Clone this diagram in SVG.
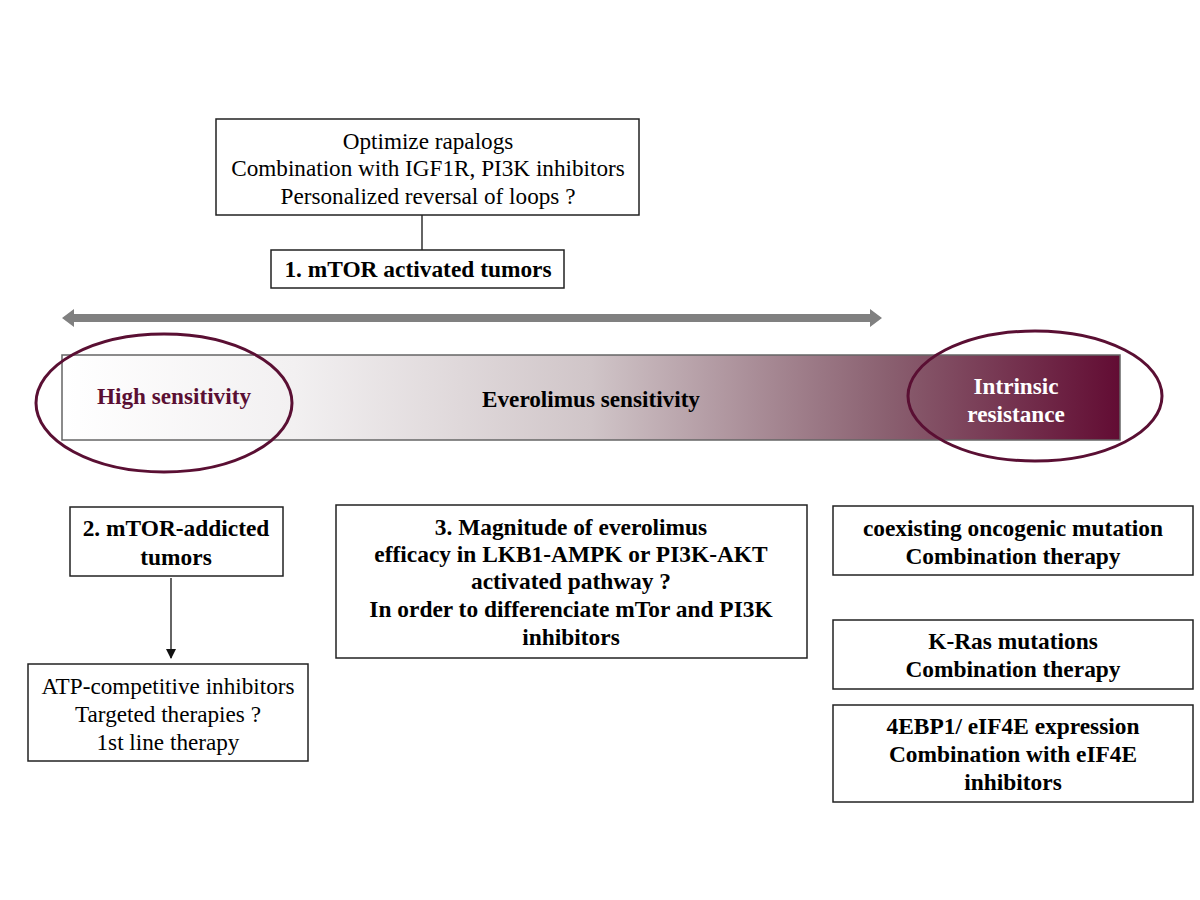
<svg xmlns="http://www.w3.org/2000/svg" width="1200" height="900" viewBox="0 0 1200 900">
<style>
.box{fill:#fff;stroke:#222;stroke-width:1.5}
.t{font-family:"Liberation Serif","Times New Roman",serif;font-size:23.2px;text-anchor:middle;fill:#000}
.b{font-weight:bold;font-size:23.4px}
.ln{stroke:#111;stroke-width:1.3;fill:none}
</style>
<defs>
<linearGradient id="grad" x1="0" y1="0" x2="1" y2="0">
<stop offset="0" stop-color="#ffffff"/>
<stop offset="0.22" stop-color="#f2f0f1"/>
<stop offset="0.5" stop-color="#d0c5c8"/>
<stop offset="0.78" stop-color="#8a6070"/>
<stop offset="1" stop-color="#620c33"/>
</linearGradient>
<marker id="ah" markerWidth="10" markerHeight="10" refX="9" refY="5" orient="auto" markerUnits="userSpaceOnUse">
<path d="M0,0 L10,5 L0,10 Z" fill="#111"/>
</marker>
</defs>
<rect width="1200" height="900" fill="#fff"/>

<g id="scale">
<rect x="62" y="355" width="1058" height="85" fill="url(#grad)" stroke="#666" stroke-width="1.5"/>
<text class="t b" x="591" y="407" style="font-size:23.2px">Everolimus sensitivity</text>
</g>
<g id="double-arrow">
<path d="M62,318 L74,309 L74,314 L870,314 L870,309 L882,318 L870,327 L870,322 L74,322 L74,327 Z" fill="#808080"/>
</g>
<g id="high-sensitivity">
<ellipse cx="164" cy="403" rx="128" ry="69" fill="none" stroke="#5a0f33" stroke-width="3"/>
<text class="t b" x="174" y="404" style="fill:#5a0f33;font-size:23.2px">High sensitivity</text>
</g>
<g id="intrinsic-resistance">
<ellipse cx="1035" cy="396" rx="127" ry="65" fill="none" stroke="#5a0f33" stroke-width="3"/>
<text class="t b" x="1016" y="394" style="fill:#fff;font-size:23.2px">Intrinsic</text>
<text class="t b" x="1016" y="422" style="fill:#fff;font-size:23.2px">resistance</text>
</g>

<g id="connectors">
<line class="ln" x1="422" y1="215" x2="422" y2="250"/>
<line class="ln" x1="171" y1="578" x2="171" y2="658" marker-end="url(#ah)"/>
</g>

<g id="optimize">
<rect class="box" x="216" y="119" width="423" height="96"/>
<text class="t" x="428" y="149">Optimize rapalogs</text>
<text class="t" x="428" y="176">Combination with IGF1R, PI3K inhibitors</text>
<text class="t" x="428" y="204">Personalized reversal of loops ?</text>
</g>
<g id="mtor-activated">
<rect class="box" x="271" y="250" width="293" height="38"/>
<text class="t b" x="418" y="277">1. mTOR activated tumors</text>
</g>
<g id="mtor-addicted">
<rect class="box" x="70" y="507" width="213" height="69"/>
<text class="t b" x="176" y="536">2. mTOR-addicted</text>
<text class="t b" x="176" y="565">tumors</text>
</g>
<g id="atp">
<rect class="box" x="28" y="664" width="280" height="97"/>
<text class="t" x="168" y="694">ATP-competitive inhibitors</text>
<text class="t" x="168" y="722">Targeted therapies ?</text>
<text class="t" x="168" y="750">1st line therapy</text>
</g>
<g id="magnitude">
<rect class="box" x="336" y="505" width="471" height="153"/>
<text class="t b" x="571" y="535">3. Magnitude of everolimus</text>
<text class="t b" x="571" y="562">efficacy in LKB1-AMPK or PI3K-AKT</text>
<text class="t b" x="571" y="589">activated pathway ?</text>
<text class="t b" x="571" y="617">In order to differenciate mTor and PI3K</text>
<text class="t b" x="571" y="645">inhibitors</text>
</g>
<g id="coexisting">
<rect class="box" x="833" y="506" width="360" height="69"/>
<text class="t b" x="1013" y="536">coexisting oncogenic mutation</text>
<text class="t b" x="1013" y="564">Combination therapy</text>
</g>
<g id="kras">
<rect class="box" x="833" y="620" width="360" height="69"/>
<text class="t b" x="1013" y="649">K-Ras mutations</text>
<text class="t b" x="1013" y="677">Combination therapy</text>
</g>
<g id="eif4e">
<rect class="box" x="833" y="705" width="360" height="97"/>
<text class="t b" x="1013" y="734">4EBP1/ eIF4E expression</text>
<text class="t b" x="1013" y="762">Combination with eIF4E</text>
<text class="t b" x="1013" y="790">inhibitors</text>
</g>
</svg>
